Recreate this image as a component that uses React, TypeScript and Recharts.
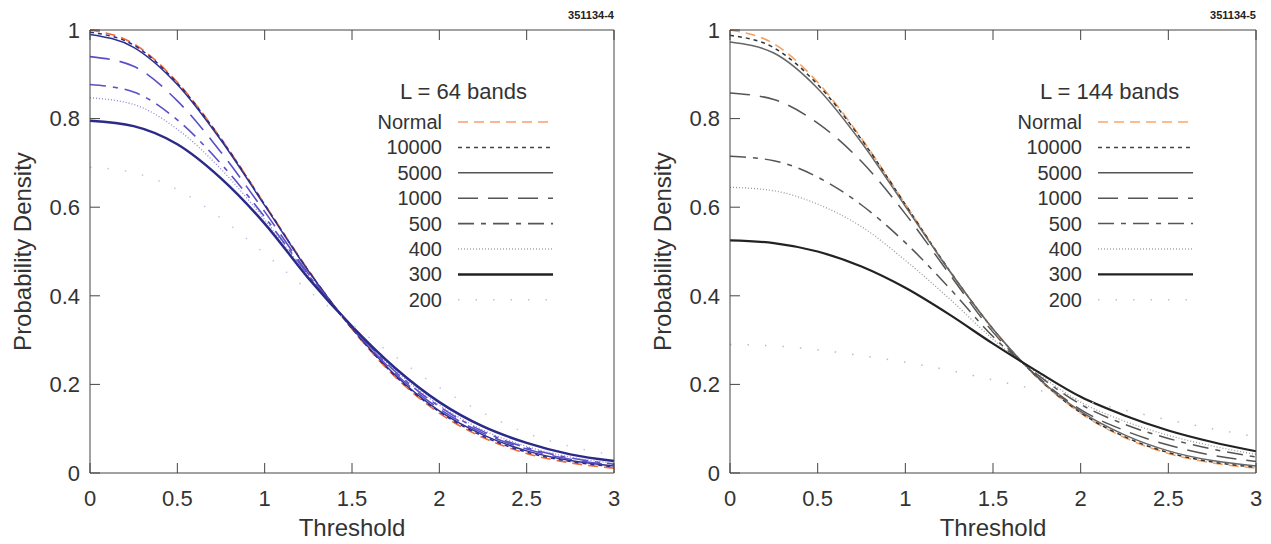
import React from 'react'
import { LineChart, Line, XAxis, YAxis } from 'recharts'

const X = [0, 0.25, 0.5, 0.75, 1, 1.25, 1.5, 1.75, 2, 2.25, 2.5, 2.75, 3]
const X_TICKS = [0, 0.5, 1, 1.5, 2, 2.5, 3]
const Y_TICKS = [0, 0.2, 0.4, 0.6, 0.8, 1]
const LABELS = ['Normal', '10000', '5000', '1000', '500', '400', '300', '200']

const NORMAL = [1, 0.969, 0.882, 0.755, 0.607, 0.458, 0.325, 0.216, 0.135, 0.08, 0.044, 0.023, 0.011]

// L = 64 bands
const L64_10000 = [0.995, 0.966, 0.88, 0.754, 0.606, 0.457, 0.326, 0.218, 0.138, 0.083, 0.047, 0.026, 0.014]
const L64_5000 = [0.99, 0.961, 0.877, 0.751, 0.604, 0.456, 0.327, 0.22, 0.14, 0.086, 0.05, 0.028, 0.016]
const L64_1000 = [0.94, 0.918, 0.84, 0.724, 0.59, 0.45, 0.329, 0.224, 0.145, 0.09, 0.054, 0.031, 0.018]
const L64_500 = [0.877, 0.86, 0.797, 0.698, 0.578, 0.447, 0.33, 0.228, 0.15, 0.094, 0.057, 0.034, 0.02]
const L64_400 = [0.847, 0.832, 0.776, 0.686, 0.572, 0.445, 0.33, 0.231, 0.153, 0.097, 0.06, 0.036, 0.022]
const L64_300 = [0.795, 0.783, 0.742, 0.665, 0.563, 0.44, 0.331, 0.236, 0.16, 0.105, 0.068, 0.042, 0.027]
const L64_200 = [0.69, 0.678, 0.64, 0.575, 0.495, 0.412, 0.335, 0.262, 0.193, 0.136, 0.09, 0.06, 0.04]

// L = 144 bands
const L144_10000 = [0.988, 0.96, 0.877, 0.753, 0.606, 0.458, 0.325, 0.217, 0.136, 0.082, 0.046, 0.025, 0.013]
const L144_5000 = [0.973, 0.948, 0.868, 0.746, 0.602, 0.457, 0.325, 0.218, 0.139, 0.086, 0.05, 0.028, 0.016]
const L144_1000 = [0.858, 0.843, 0.79, 0.703, 0.585, 0.45, 0.318, 0.219, 0.143, 0.096, 0.063, 0.04, 0.026]
const L144_500 = [0.715, 0.705, 0.668, 0.605, 0.52, 0.418, 0.308, 0.223, 0.155, 0.11, 0.078, 0.054, 0.036]
const L144_400 = [0.645, 0.637, 0.607, 0.556, 0.48, 0.394, 0.302, 0.226, 0.16, 0.117, 0.085, 0.061, 0.042]
const L144_300 = [0.525, 0.519, 0.5, 0.466, 0.418, 0.358, 0.292, 0.23, 0.172, 0.13, 0.096, 0.07, 0.049]
const L144_200 = [0.29, 0.287, 0.278, 0.265, 0.25, 0.232, 0.21, 0.188, 0.165, 0.142, 0.12, 0.1, 0.082]

const FONT = '"Liberation Sans", Arial, Helvetica, sans-serif'
const INK = '#333'
const AXIS = '#444'

type Style = { color: string; dash?: string; width: number; legend: string }

const DASHES = ['10 6', '4 4', undefined, '20 10', '16 7 5 7', '1 2', undefined, '1.5 16']

const BLUE_STYLES: Style[] = [
  { color: '#f06a35', dash: DASHES[0], width: 1.6, legend: '#f5a070' },
  { color: '#2a2a90', dash: DASHES[1], width: 1.5, legend: '#444' },
  { color: '#30308c', width: 1.5, legend: '#555' },
  { color: '#5a4fc8', dash: DASHES[3], width: 1.6, legend: '#555' },
  { color: '#5a4fc8', dash: DASHES[4], width: 1.6, legend: '#555' },
  { color: '#8c86d8', dash: DASHES[5], width: 1.3, legend: '#aaa' },
  { color: '#2b2a88', width: 2.5, legend: '#222' },
  { color: '#c4c4e8', dash: DASHES[7], width: 1.5, legend: '#c4c4c4' },
]

const GRAY_STYLES: Style[] = [
  { color: '#f5a060', dash: DASHES[0], width: 1.6, legend: '#f5a870' },
  { color: '#333', dash: DASHES[1], width: 1.5, legend: '#444' },
  { color: '#666', width: 1.5, legend: '#555' },
  { color: '#555', dash: DASHES[3], width: 1.5, legend: '#555' },
  { color: '#555', dash: DASHES[4], width: 1.5, legend: '#555' },
  { color: '#9a9a9a', dash: DASHES[5], width: 1.3, legend: '#aaa' },
  { color: '#222', width: 2.2, legend: '#222' },
  { color: '#bdbdbd', dash: DASHES[7], width: 1.5, legend: '#c4c4c4' },
]

const W = 630
const H = 544

function Panel({ left, title, code, series, styles, rightWidth }: {
  left: number; title: string; code: string; series: number[][]; styles: Style[]; rightWidth: number
}) {
  const data = X.map((x, i) => {
    const row: Record<string, number> = { x }
    series.forEach((s, k) => { row['s' + k] = s[i] })
    return row
  })
  const plotRight = W - rightWidth
  const tickStyle = { fontSize: 22, fill: INK, fontFamily: FONT }

  return (
    <div style={{ position: 'absolute', left, top: 0, width: W, height: H }}>
      <LineChart width={W} height={H} data={data} margin={{ top: 0, right: 0, bottom: 41, left: 0 }}>
        <XAxis xAxisId="b" dataKey="x" type="number" domain={[0, 3]} ticks={X_TICKS} interval={0}
          height={30} tickSize={-10} tickMargin={27} stroke={AXIS} tick={tickStyle}
          label={{ value: 'Threshold', position: 'bottom', offset: 16, style: { fontSize: 24, fill: INK, fontFamily: FONT } }} />
        <XAxis xAxisId="t" orientation="top" dataKey="x" type="number" domain={[0, 3]} ticks={X_TICKS} interval={0}
          height={30} tickSize={-10} stroke={AXIS} tickFormatter={() => ''} />
        <YAxis yAxisId="l" type="number" domain={[0, 1]} ticks={Y_TICKS} interval={0}
          width={90} tickSize={-10} tickMargin={20} stroke={AXIS} tick={tickStyle}
          label={{ value: 'Probability Density', angle: -90, position: 'insideLeft', offset: 22,
            style: { textAnchor: 'middle', fontSize: 24, fill: INK, fontFamily: FONT } }} />
        <YAxis yAxisId="r" orientation="right" type="number" domain={[0, 1]} ticks={Y_TICKS} interval={0}
          width={rightWidth} tickSize={-10} stroke={AXIS} tickFormatter={() => ''} />
        {series.map((_, k) => (
          <Line key={k} xAxisId="b" yAxisId="l" type="monotone" dataKey={'s' + k} dot={false}
            stroke={styles[k].color} strokeWidth={styles[k].width} strokeDasharray={styles[k].dash}
            isAnimationActive={false} />
        ))}
      </LineChart>
      <svg width={W} height={H} style={{ position: 'absolute', left: 0, top: 0, pointerEvents: 'none' }}>
        <text x={plotRight} y={19} textAnchor="end" fontSize={11} fontWeight="bold" fill="#222" fontFamily={FONT}>{code}</text>
        <text x={400} y={99} fontSize={22} fill={INK} fontFamily={FONT}>{title}</text>
        {LABELS.map((lab, k) => {
          const y = 122 + k * 25.4
          return (
            <g key={lab}>
              <text x={442} y={y + 7} textAnchor="end" fontSize={20} fill={INK} fontFamily={FONT}>{lab}</text>
              <line x1={458} x2={553} y1={y} y2={y} stroke={styles[k].legend}
                strokeWidth={styles[k].width} strokeDasharray={styles[k].dash} />
            </g>
          )
        })}
      </svg>
    </div>
  )
}

export default function App() {
  return (
    <div style={{ position: 'absolute', left: 0, top: 0, width: 1271, height: 544, background: '#fff' }}>
      <Panel left={0} title="L = 64 bands" code="351134-4" rightWidth={16}
        series={[NORMAL, L64_10000, L64_5000, L64_1000, L64_500, L64_400, L64_300, L64_200]}
        styles={BLUE_STYLES} />
      <Panel left={640} title="L = 144 bands" code="351134-5" rightWidth={14}
        series={[NORMAL, L144_10000, L144_5000, L144_1000, L144_500, L144_400, L144_300, L144_200]}
        styles={GRAY_STYLES} />
    </div>
  )
}
